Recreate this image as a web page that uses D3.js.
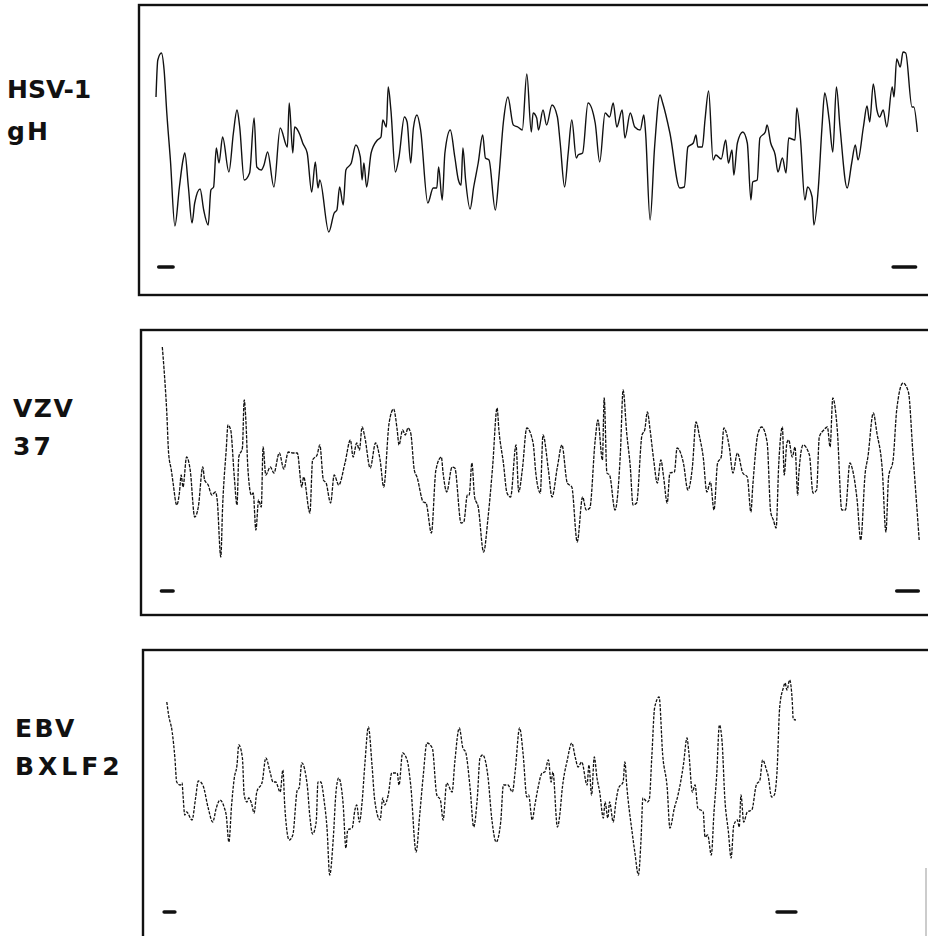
<!DOCTYPE html>
<html>
<head>
<meta charset="utf-8">
<script src="https://cdn.jsdelivr.net/npm/d3@7"></script>
<style>
  html, body { margin: 0; padding: 0; background: #fff; }
  svg { display: block; }
</style>
</head>
<body>
<div id="chart"></div>
<script>
// hydropathy profiles: [residue, score]
var hsv1gH = [
  [0,5.2],[2,8.9],[6,9.6],[9,7.9],[12,3.6],[16,-1.1],[21,-7.7],[26,-3.8],[30,-1.1],[32,-0.4],
  [36,-3.8],[40,-7.4],[43,-5.4],[49,-4.0],[53,-6.1],[58,-7.6],[61,-4.1],[64,-3.8],[67,0.1],[70,-1.4],
  [74,1.2],[81,-2.3],[86,1.6],[90,3.9],[93,2.2],[98,-3.1],[104,-2.4],[109,3.1],[112,-1.8],[117,-2.1],
  [120,-1.6],[124,-0.3],[131,-3.8],[138,2.1],[146,0.2],[148,4.6],[152,-0.4],[154,2.2],[160,1.4],[163,0.6],
  [168,-0.4],[173,-4.3],[177,-1.3],[180,-3.9],[182,-3.1],[192,-8.3],[198,-6.4],[201,-6.1],[204,-3.8],[208,-5.6],
  [211,-2.1],[217,-1.4],[222,0.4],[227,-0.8],[229,-3.1],[231,-1.4],[234,-3.8],[239,-0.4],[246,0.9],[250,1.2],
  [252,2.9],[256,2.2],[258,6.2],[261,3.9],[266,-2.3],[270,-0.8],[276,3.2],[279,2.7],[283,-1.4],[286,2.1],
  [290,3.4],[294,1.9],[302,-5.4],[308,-3.9],[312,-3.9],[314,-1.8],[318,-5.1],[321,-0.4],[327,1.9],[332,-0.8],
  [336,-3.1],[339,-3.6],[341,0.1],[344,-3.1],[349,-6.0],[353,-3.8],[358,-1.4],[363,1.4],[366,-0.9],[370,-1.1],
  [377,-6.1],[381,-2.8],[386,2.7],[391,5.2],[397,2.4],[402,2.2],[407,1.9],[412,7.5],[417,1.7],[419,3.6],
  [423,3.1],[425,1.9],[430,3.9],[434,2.4],[440,4.4],[446,3.2],[449,0.7],[454,-3.8],[458,-0.4],[462,2.9],
  [467,-0.9],[469,-0.6],[474,-0.4],[480,4.6],[488,2.6],[493,-1.3],[499,3.6],[504,3.2],[508,4.6],[512,2.2],
  [518,3.9],[521,1.1],[527,3.6],[532,2.2],[538,1.9],[542,3.4],[544,1.6],[549,-7.1],[554,0.2],[560,5.4],
  [563,4.6],[571,1.6],[582,-3.9],[587,-3.8],[591,0.2],[597,0.6],[600,1.4],[602,0.2],[607,0.2],[610,2.9],
  [614,5.8],[619,-1.1],[622,-0.6],[628,-1.0],[633,0.9],[636,-1.4],[640,-0.1],[642,-2.6],[646,0.6],[652,1.7],
  [657,0.6],[661,-5.1],[663,-3.3],[668,-3.1],[671,1.1],[677,1.7],[679,2.4],[683,0.6],[688,-0.6],[691,-2.3],
  [696,-0.9],[700,-2.4],[703,1.1],[710,0.9],[712,4.1],[716,1.1],[721,-5.1],[724,-3.8],[729,-4.8],[731,-7.6],
  [736,-3.8],[740,2.2],[743,5.6],[748,2.9],[752,-0.3],[756,6.2],[760,2.2],[768,-3.9],[773,-1.4],[777,0.4],
  [780,-1.1],[786,2.2],[790,4.3],[793,2.7],[797,6.5],[801,3.9],[804,3.2],[808,3.9],[812,2.2],[818,6.2],
  [820,5.2],[823,9.0],[827,8.2],[830,9.7],[833,9.6],[840,4.2],[842,4.2],[846,1.7]
];

var vzv37 = [
  [7,12.6],[9,10.3],[12,6.0],[14,2.0],[17,0.3],[19,-1.0],[23,-3.2],[26,-2.0],[28,-0.2],[30,-1.4],
  [34,1.6],[38,0.3],[43,-4.4],[47,-3.4],[52,0.6],[54,-0.7],[58,-1.2],[62,-2.2],[66,-1.9],[68,-2.7],
  [72,-8.4],[74,-3.4],[78,2.3],[80,4.8],[83,4.3],[87,-0.4],[90,-3.2],[92,1.6],[96,2.5],[98,7.3],
  [100,5.0],[102,0.6],[106,-2.2],[108,-2.0],[111,-5.7],[114,-2.7],[117,-3.4],[119,2.6],[122,-0.2],[127,0.6],
  [131,0.0],[137,2.0],[142,0.4],[147,2.1],[152,2.0],[157,2.0],[162,-1.4],[164,-0.4],[171,-4.0],[174,1.3],
  [179,1.8],[182,2.8],[186,-0.7],[189,-1.0],[194,-3.0],[198,-0.2],[203,-1.2],[210,1.0],[216,3.3],[219,1.6],
  [223,3.0],[226,2.3],[229,4.6],[232,3.6],[238,0.5],[244,3.0],[249,1.3],[253,-1.4],[259,5.0],[264,6.4],
  [268,4.3],[270,2.8],[274,4.3],[277,3.8],[280,4.5],[283,4.0],[287,0.3],[290,-0.4],[297,-2.9],[300,-3.0],
  [306,-6.0],[311,0.3],[317,1.6],[319,0.0],[323,-1.9],[329,0.6],[332,0.5],[339,-5.0],[342,-4.9],[346,-2.2],
  [348,-2.2],[351,1.0],[354,-2.4],[358,-3.4],[364,-7.9],[369,-4.4],[374,0.6],[379,6.5],[381,4.3],[386,1.0],
  [390,-2.0],[394,-2.4],[400,2.8],[403,-1.9],[407,0.3],[412,4.5],[419,3.0],[422,0.0],[427,-2.0],[430,3.8],
  [436,0.3],[440,-2.4],[446,0.6],[451,2.8],[457,-1.0],[462,-1.4],[468,-6.9],[474,-2.4],[478,-3.7],[482,-3.5],
  [488,3.3],[491,5.3],[496,1.3],[498,7.5],[501,0.0],[504,-0.2],[510,-3.7],[516,2.0],[519,8.3],[523,4.0],
  [527,0.6],[530,-3.2],[534,-3.0],[540,3.8],[543,4.3],[546,6.1],[549,4.3],[553,1.3],[557,-1.0],[561,1.3],
  [564,-0.4],[568,-3.0],[571,0.0],[576,0.1],[579,2.5],[586,1.0],[591,-1.7],[596,0.6],[600,5.1],[604,3.6],
  [608,1.6],[612,-1.9],[616,-0.9],[620,-3.7],[624,1.0],[628,1.6],[631,4.5],[637,2.6],[641,0.0],[646,2.0],
  [652,0.0],[657,-0.4],[661,-3.9],[663,-1.4],[669,4.0],[673,4.6],[679,3.1],[683,-3.9],[686,-4.7],[689,-5.5],
  [692,1.0],[696,4.6],[698,-0.2],[701,3.0],[703,3.3],[707,1.6],[710,2.6],[713,-2.2],[714,-0.4],[719,2.8],
  [726,1.8],[730,-2.0],[734,-1.7],[737,3.6],[742,4.3],[746,4.6],[749,2.6],[752,7.5],[757,4.3],[762,-3.7],
  [766,-3.7],[771,1.0],[774,0.3],[779,-2.7],[783,-6.7],[788,0.0],[791,1.6],[797,6.0],[801,4.0],[807,0.3],
  [811,-5.9],[814,-0.4],[819,1.3],[823,6.3],[830,9.0],[836,8.1],[841,2.0],[848,-6.7]
];

var ebvBXLF2 = [
  [12,9.2],[14,7.9],[18,6.2],[21,3.6],[23,1.2],[27,0.9],[29,1.1],[30,-0.1],[32,-2.1],[34,-1.8],
  [40,-2.6],[44,-0.4],[47,1.3],[52,0.9],[58,-1.4],[63,-2.8],[67,-1.4],[71,-0.6],[76,-1.4],[78,-2.1],
  [81,-4.8],[84,-1.1],[87,1.6],[90,2.9],[92,4.9],[96,3.6],[98,-0.1],[101,-0.8],[103,-0.4],[106,-0.9],
  [109,-1.9],[112,0.2],[118,1.2],[122,3.6],[127,2.1],[130,1.2],[133,1.2],[138,0.2],[141,2.4],[143,-1.1],
  [148,-4.6],[152,-4.1],[157,0.4],[159,0.6],[162,3.1],[168,0.9],[171,-2.3],[174,-4.0],[178,-2.8],[180,1.2],
  [183,1.2],[187,-0.8],[190,-3.4],[193,-8.1],[197,-4.4],[200,0.2],[203,1.6],[208,-1.1],[211,-5.4],[213,-3.6],
  [218,-3.4],[221,-1.6],[223,-1.1],[226,-2.8],[229,-0.8],[232,2.9],[236,6.7],[240,2.9],[243,-0.6],[249,-2.6],
  [252,-0.4],[254,-1.1],[258,-0.1],[262,2.1],[268,2.1],[270,0.9],[274,4.1],[279,3.4],[283,0.9],[289,-5.8],
  [293,-2.1],[297,1.9],[301,5.1],[307,4.6],[312,-0.1],[316,-0.6],[319,-2.6],[323,1.1],[329,0.2],[332,3.2],
  [337,6.6],[341,4.6],[344,4.2],[349,0.6],[353,-3.3],[357,-0.4],[360,3.6],[363,3.9],[369,1.6],[373,-2.4],
  [378,-4.8],[383,-2.8],[386,0.9],[391,0.9],[396,0.2],[399,2.2],[404,6.6],[408,3.9],[412,-0.3],[414,-0.1],
  [418,-2.6],[421,-1.1],[424,0.4],[429,2.1],[432,2.2],[436,3.4],[439,1.2],[441,2.2],[446,-3.3],[449,-1.8],
  [451,0.2],[457,3.4],[462,5.1],[466,3.6],[469,2.7],[473,3.2],[479,0.9],[481,2.9],[484,-0.1],[487,3.7],
  [490,1.6],[493,0.2],[497,-2.4],[499,-0.8],[502,-2.4],[504,-0.8],[508,-2.8],[511,-0.8],[514,0.6],[519,1.2],
  [521,3.2],[523,0.9],[529,-3.8],[532,-5.8],[536,-8.1],[539,-4.4],[541,-0.4],[546,-0.8],[548,-0.6],[551,3.9],
  [554,8.6],[559,9.7],[563,3.9],[568,0.6],[571,-3.4],[576,-1.4],[580,-0.1],[586,2.9],[590,5.6],[592,4.2],
  [596,0.2],[599,0.9],[602,-1.4],[608,-1.8],[610,-4.3],[613,-4.1],[617,-6.1],[620,-1.8],[623,1.9],[626,6.9],
  [629,5.2],[632,-0.4],[636,-3.8],[639,-6.4],[642,-3.1],[646,-2.6],[648,-3.3],[650,-0.1],[653,-2.8],[657,-1.8],
  [662,-1.6],[667,0.9],[671,1.4],[674,3.4],[679,2.2],[680,1.9],[684,-0.3],[687,-0.1],[690,2.2],[693,8.7],
  [697,10.6],[699,11.1],[701,10.4],[704,11.4],[707,9.2],[708,7.5],[711,7.4]
];

// short bars under each trace (residue ranges)
var hsvMarks = [[3, 19], [819, 844]];
var vzvMarks = [[6, 19], [823, 847]];
var ebvMarks = [[9, 21], [690, 711]];
var markLevel = -11.8;

var labelsTop = ['HSV-1', 'VZV', 'EBV'];
var labelsBottom = ['gH', '37', 'BXLF2'];

var W = 928, H = 936;
var svg = d3.select('#chart').append('svg')
  .attr('width', W).attr('height', H)
  .attr('viewBox', '0 0 ' + W + ' ' + H);

var x = d3.scaleLinear().domain([0, 850]).range([156, 921]);

var panels = [
  { data: hsv1gH, marks: hsvMarks, top: 5, frameTop: 5, frameBottom: 295, frameLeft: 139, dash: null, sw: 1.4,
    lx: 7, ly1: 98, ly2: 140, ls1: 0, ls2: 2 },
  { data: vzv37, marks: vzvMarks, top: 329, frameTop: 330, frameBottom: 615, frameLeft: 141, dash: '3.5,1.2', sw: 1.3,
    lx: 13, ly1: 417, ly2: 455, ls1: 1.5, ls2: 3 },
  { data: ebvBXLF2, marks: ebvMarks, top: 650, frameTop: 650, frameBottom: 945, frameLeft: 143, dash: '3,1.4', sw: 1.3,
    lx: 15, ly1: 737, ly2: 775, ls1: 2.5, ls2: 4 }
];

panels.forEach(function (p, i) {
  var y = d3.scaleLinear().domain([-14.4, 14.4]).range([p.top + 288, p.top]);
  var g = svg.append('g');

  g.append('rect')
    .attr('x', p.frameLeft).attr('y', p.frameTop)
    .attr('width', 820).attr('height', p.frameBottom - p.frameTop)
    .attr('fill', 'none').attr('stroke', '#111').attr('stroke-width', 2.4);

  var line = d3.line()
    .curve(d3.curveMonotoneX)
    .x(function (d) { return x(d[0]); })
    .y(function (d) { return y(d[1]); });

  g.append('path')
    .datum(p.data)
    .attr('d', line)
    .attr('fill', 'none')
    .attr('stroke', '#111')
    .attr('stroke-width', p.sw)
    .attr('stroke-linejoin', 'round')
    .attr('stroke-dasharray', p.dash);

  g.selectAll('.mark').data(p.marks).join('line')
    .attr('class', 'mark')
    .attr('x1', function (d) { return x(d[0]); })
    .attr('x2', function (d) { return x(d[1]); })
    .attr('y1', y(markLevel)).attr('y2', y(markLevel))
    .attr('stroke', '#111').attr('stroke-width', 3.5)
    .attr('stroke-linecap', 'round');

  g.append('text')
    .attr('x', p.lx).attr('y', p.ly1)
    .attr('font-family', 'DejaVu Sans, sans-serif')
    .attr('font-size', 25).attr('font-weight', 'bold')
    .attr('letter-spacing', p.ls1)
    .attr('fill', '#111')
    .text(labelsTop[i]);
  g.append('text')
    .attr('x', p.lx).attr('y', p.ly2)
    .attr('font-family', 'DejaVu Sans, sans-serif')
    .attr('font-size', 25).attr('font-weight', 'bold')
    .attr('letter-spacing', p.ls2)
    .attr('fill', '#111')
    .text(labelsBottom[i]);
});

// faint edge fragment at lower right of the scan
svg.append('line')
  .attr('x1', 926).attr('x2', 926).attr('y1', 868).attr('y2', 936)
  .attr('stroke', '#bbb').attr('stroke-width', 1.5);
</script>
</body>
</html>
